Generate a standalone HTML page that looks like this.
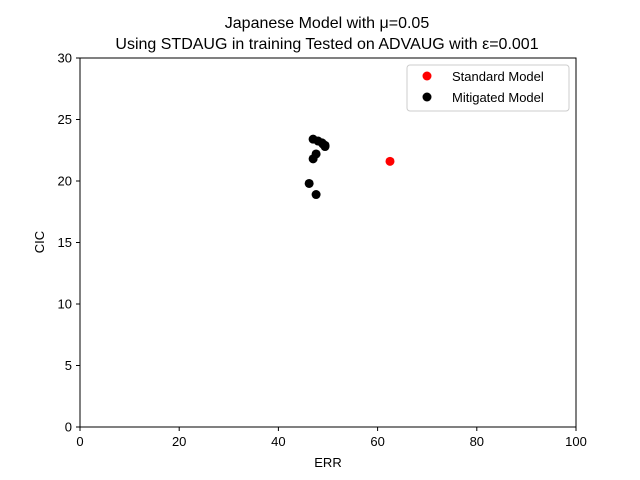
<!DOCTYPE html>
<html><head><meta charset="utf-8"><style>
body{margin:0;background:#fff;}
svg{display:block;font-family:"Liberation Sans","DejaVu Sans",sans-serif;}
</style></head><body>
<svg id="chart" width="640" height="480">
<text x="327" y="28" text-anchor="middle" font-size="16">Japanese Model with μ=0.05</text>
<text x="327" y="49" text-anchor="middle" font-size="16">Using STDAUG in training Tested on ADVAUG with ε=0.001</text>
<g id="ticks"></g>
<g id="marks"></g>
<rect x="80" y="58" width="496" height="369" fill="none" stroke="#000" stroke-width="1"/>
<text x="328" y="467" text-anchor="middle" font-size="13">ERR</text>
<text x="44" y="242" text-anchor="middle" font-size="13" transform="rotate(-90 44 242)">CIC</text>
<g>
<rect x="407" y="65" width="162" height="46" fill="#fff" stroke="#ccc" rx="3"/>
<circle cx="427" cy="76" r="4.5" fill="red"/>
<text x="452" y="81" font-size="13">Standard Model</text>
<circle cx="427" cy="97" r="4.5" fill="#000"/>
<text x="452" y="102" font-size="13">Mitigated Model</text>
</g>
</svg>
<script>
const xTicks=[0,20,40,60,80,100];
const yTicks=[0,5,10,15,20,25,30];
const stdErr=[62.5];
const stdCic=[21.6];
const mitErr=[47.0,48.0,48.8,49.4,49.4,49.0,47.6,47.0,46.2,47.6];
const mitCic=[23.4,23.25,23.1,22.9,22.8,23.0,22.2,21.8,19.8,18.9];
const X=v=>80+v/100*496, Y=v=>427-v/30*369;
const NS="http://www.w3.org/2000/svg";
const tg=document.getElementById('ticks'), mg=document.getElementById('marks');
function mk(tag,attrs,parent){const e=document.createElementNS(NS,tag);for(const k in attrs)e.setAttribute(k,attrs[k]);parent.appendChild(e);return e;}
xTicks.forEach(t=>{
  const l=mk('line',{x1:X(t),x2:X(t),y1:427,y2:431,stroke:'#000'},tg);
  
  
  const s=mk('text',{x:X(t),y:446,'text-anchor':'middle','font-size':13},tg);s.textContent=t;
  
  
});
yTicks.forEach(t=>{
  const l=mk('line',{x1:76,x2:80,y1:Y(t),y2:Y(t),stroke:'#000'},tg);
  
  
  const s=mk('text',{x:72,y:Y(t)+4.5,'text-anchor':'end','font-size':13},tg);s.textContent=t;
  
  
});
stdErr.forEach((v,i)=>{
  const c=mk('circle',{cx:X(v),cy:Y(stdCic[i]),r:4.5,fill:'red'},mg);
  
  
});
mitErr.forEach((v,i)=>{
  const c=mk('circle',{cx:X(v),cy:Y(mitCic[i]),r:4.5,fill:'#000'},mg);
  
  
});
</script>
</body></html>
